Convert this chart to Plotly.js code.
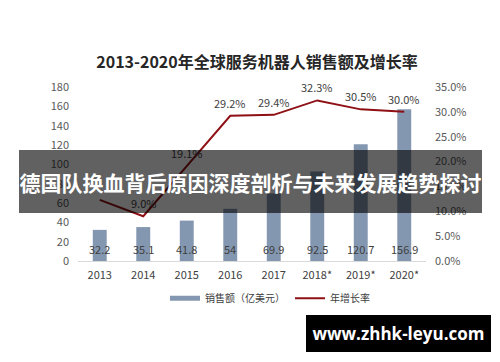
<!DOCTYPE html>
<html>
<head>
<meta charset="utf-8">
<script src="https://cdn.plot.ly/plotly-3.0.1.min.js"></script>
<style>
html,body{margin:0;padding:0;background:#fff;}
#chart{width:500px;height:362px;}
</style>
</head>
<body>
<div id="chart"></div>
<script>
// ---- data ----
const years = ["2013", "2014", "2015", "2016", "2017", "2018*", "2019*", "2020*"];
const sales = [32.2, 35.1, 41.8, 54, 69.9, 92.5, 120.7, 156.9];
const growth = [12.3, 9.0, 19.1, 29.2, 29.4, 32.3, 30.5, 30.0];
const growthLabels = ["", "9.0%", "19.1%", "29.2%", "29.4%", "32.3%", "30.5%", "30.0%"];
const salesLabels = ["32.2", "35.1", "41.8", "54", "69.9", "92.5", "120.7", "156.9"];
const titleText = "2013-2020年全球服务机器人销售额及增长率";
const salesName = "销售额（亿美元）";
const growthName = "年增长率";
const bannerText = "德国队换血背后原因深度剖析与未来发展趋势探讨";
const watermarkText = "www.zhhk-leyu.com";

const FONT = '"Noto Sans CJK SC", "Noto Sans", sans-serif';
const barColor = "#8497b0";
const lineColor = "#8e1014";

const traces = [
  {
    type: "bar", x: years, y: sales, name: salesName,
    marker: {color: barColor}, width: 0.32, showlegend: false, hoverinfo: "skip"
  },
  {
    type: "scatter", mode: "lines", x: [years[0], years[0]], y: [-100, -100], name: salesName,
    line: {color: barColor, width: 5}, showlegend: true
  },
  {
    type: "scatter", mode: "lines", x: years, y: growth, yaxis: "y2", name: growthName,
    line: {color: lineColor, width: 2}, showlegend: true
  }
];

const annotations = [];
years.forEach((yr, i) => {
  annotations.push({
    x: i, y: 0, xref: "x", yref: "y", text: salesLabels[i], showarrow: false,
    yshift: 12, font: {family: FONT, size: 11, color: "#404040"}
  });
  if (growthLabels[i]) {
    annotations.push({
      x: i, y: growth[i], xref: "x", yref: "y2", text: growthLabels[i], showarrow: false,
      yshift: 13, font: {family: FONT, size: 11, color: "#404040"}
    });
  }
});
// translucent banner over the chart
annotations.push({
  xref: "paper", yref: "paper", x: 0.4957, y: 0.457, xanchor: "center", yanchor: "middle",
  text: "<b>" + bannerText + "</b>", showarrow: false,
  width: 463, height: 63, align: "center", valign: "middle",
  bgcolor: "rgba(0,0,0,0.62)", borderpad: 0, borderwidth: 0,
  font: {family: FONT, size: 21, color: "#ffffff"}
});
// watermark box
annotations.push({
  xref: "paper", yref: "paper", x: 0.921, y: -0.4167, xanchor: "center", yanchor: "middle",
  text: "<b>" + watermarkText + "</b>", showarrow: false,
  width: 185, height: 37, align: "center", valign: "middle",
  bgcolor: "#000000", borderpad: 0, borderwidth: 0,
  font: {family: '"Open Sans", "DejaVu Sans", sans-serif', size: 17, color: "#ffffff"}
});

const layout = {
  width: 500, height: 362,
  margin: {l: 78, r: 74, t: 87, b: 101},
  paper_bgcolor: "#ffffff", plot_bgcolor: "#ffffff",
  font: {family: FONT, size: 11, color: "#595959"},
  title: {
    text: "<b>" + titleText + "</b>",
    x: 0.514, xanchor: "center", y: 0.829, yanchor: "middle",
    font: {family: FONT, size: 16, color: "#262626"}
  },
  xaxis: {
    type: "category", categoryorder: "array", categoryarray: years,
    range: [-0.5, years.length - 0.5], autorange: false,
    showgrid: false, zeroline: false,
    showline: true, linecolor: "#d9d9d9", linewidth: 1,
    ticks: "", ticklabelstandoff: 4,
    tickfont: {family: FONT, size: 11, color: "#404040"}
  },
  yaxis: {
    range: [0, 180], autorange: false, dtick: 20, showgrid: false, zeroline: false, showline: false,
    ticks: "", ticklabelstandoff: 8,
    tickfont: {family: FONT, size: 11, color: "#595959"}
  },
  yaxis2: {
    overlaying: "y", side: "right", range: [0, 35], autorange: false, dtick: 5,
    tickformat: ".1f", ticksuffix: "%",
    showgrid: false, zeroline: false, showline: false, ticks: "", ticklabelstandoff: 8,
    tickfont: {family: FONT, size: 11, color: "#595959"}
  },
  showlegend: true,
  legend: {
    orientation: "h", x: 0.25, xanchor: "left", y: -0.131, yanchor: "top",
    font: {family: FONT, size: 10, color: "#404040"}, bgcolor: "rgba(0,0,0,0)"
  },
  annotations: annotations
};

Plotly.newPlot("chart", traces, layout, {displayModeBar: false, staticPlot: true});
</script>
</body>
</html>
